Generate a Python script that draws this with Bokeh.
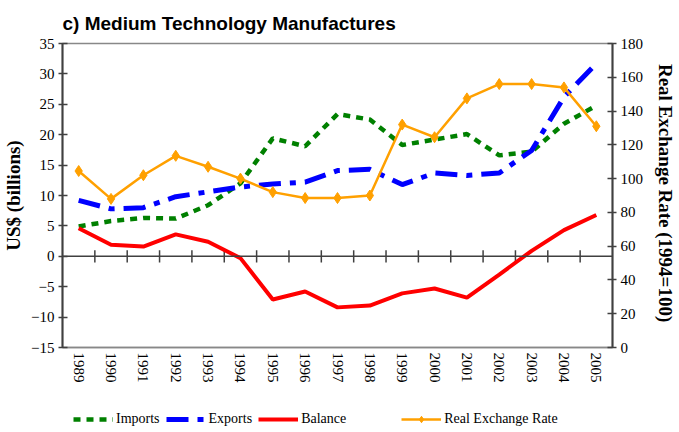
from bokeh.plotting import figure
from bokeh.layouts import column
from bokeh.models import (Range1d, LinearAxis, FixedTicker, SingleIntervalTicker,
                          Legend, LegendItem, ColumnDataSource, Span)
from bokeh.embed import file_html
from bokeh.resources import INLINE

years = [1989, 1990, 1991, 1992, 1993, 1994, 1995, 1996, 1997, 1998,
         1999, 2000, 2001, 2002, 2003, 2004, 2005]
imports = [4.9, 5.8, 6.3, 6.2, 8.4, 12.0, 19.4, 18.1, 23.4, 22.5,
           18.3, 19.2, 20.1, 16.6, 17.2, 21.8, 24.8]
exports = [9.2, 7.8, 8.0, 9.8, 10.6, 11.4, 11.9, 12.2, 14.1, 14.3,
           11.8, 13.7, 13.3, 13.7, 17.4, 26.2, 31.7]
balance = [4.6, 1.9, 1.6, 3.6, 2.4, -0.3, -7.1, -5.8, -8.4, -8.1,
           -6.1, -5.3, -6.8, -3.0, 0.9, 4.3, 6.8]
rer = [104.5, 88.0, 102.0, 113.5, 107.0, 100.0, 92.0, 88.5, 88.5, 90.0,
       132.0, 124.5, 147.5, 156.0, 156.0, 154.0, 131.0]

src = ColumnDataSource(dict(year=years, imports=imports, exports=exports,
                            balance=balance, rer=rer))
# category boundaries (tick marks on the zero line)
bounds = [y + 0.5 for y in years[:-1]]

SERIF = "Liberation Serif"
GREEN, BLUE, RED, ORANGE = "#008000", "#0000FF", "#FF0000", "#FFA000"
STY_IMP = dict(line_color=GREEN, line_width=4.5, line_dash="7 6")
STY_EXP = dict(line_color=BLUE, line_width=5, line_dash="22 9 6 9")
STY_BAL = dict(line_color=RED, line_width=4)
STY_RER = dict(line_color=ORANGE, line_width=2.5)
STY_MRK = dict(marker="diamond", size=11, fill_color=ORANGE, line_color=ORANGE)

p = figure(width=679, height=400, output_backend="svg", toolbar_location=None,
           x_range=Range1d(1988.5, 2005.5), y_range=Range1d(-15, 35),
           min_border_left=61, min_border_right=65, min_border_top=43,
           min_border_bottom=53, background_fill_color="white",
           border_fill_color="white")
p.extra_y_ranges = {"rer": Range1d(0, 180)}
p.grid.visible = False
p.outline_line_color = "#888888"
p.outline_line_width = 1.5

p.title.text = "c) Medium Technology Manufactures"
p.title.text_font = "Liberation Sans"
p.title.text_font_style = "bold"
p.title.text_font_size = "19px"
p.title.text_color = "black"
p.title.offset = 0
p.title.standoff = 20

# bottom (year labels)
xa = p.xaxis[0]
xa.ticker = FixedTicker(ticks=years)
xa.major_label_orientation = "vertical"
xa.major_tick_in = 0
xa.major_tick_out = 0
xa.minor_tick_line_color = None
xa.axis_line_color = "#888888"
xa.axis_line_width = 1.5
xa.major_label_text_font = SERIF
xa.major_label_text_font_size = "15px"
xa.major_label_text_color = "black"
xa.major_label_standoff = 5
xa.major_label_overrides = {y: str(y) for y in years}

# left axis
ya = p.yaxis[0]
ya.ticker = SingleIntervalTicker(interval=5)
ya.axis_label = "US$ (billions)"
ya.axis_label_text_font = SERIF
ya.axis_label_text_font_style = "bold"
ya.axis_label_text_font_size = "19px"
ya.axis_label_text_color = "black"
ya.axis_label_standoff = 4
ya.major_label_standoff = 4
ya.major_label_text_font = SERIF
ya.major_label_text_font_size = "15px"
ya.major_label_text_color = "black"
ya.major_tick_in = 5
ya.major_tick_out = 4
ya.minor_tick_line_color = None
ya.axis_line_width = 2
ya.axis_line_color = "#404040"
ya.major_tick_line_color = "#404040"
ya.major_tick_line_width = 1.5

# right axis
ra = LinearAxis(y_range_name="rer", ticker=SingleIntervalTicker(interval=20),
                axis_label="Real Exchange Rate  (1994=100)")
ra.axis_label_text_font = SERIF
ra.axis_label_text_font_style = "bold"
ra.axis_label_text_font_size = "19px"
ra.axis_label_text_color = "black"
ra.axis_label_standoff = 9
ra.major_label_standoff = 4
ra.major_label_text_font = SERIF
ra.major_label_text_font_size = "15px"
ra.major_label_text_color = "black"
ra.major_tick_in = 5
ra.major_tick_out = 4
ra.minor_tick_line_color = None
ra.axis_line_width = 2
ra.axis_line_color = "#404040"
ra.major_tick_line_color = "#404040"
ra.major_tick_line_width = 1.5
p.add_layout(ra, "right")

# zero line with tick marks between years
p.add_layout(Span(location=0, dimension="width", line_color="#404040",
                  line_width=1.5))
p.segment(x0=bounds, y0=[-1] * len(bounds), x1=bounds, y1=[1] * len(bounds),
          line_color="#404040", line_width=1.5)

p.line("year", "imports", source=src, **STY_IMP)
p.line("year", "exports", source=src, **STY_EXP)
p.line("year", "balance", source=src, **STY_BAL)
p.line("year", "rer", source=src, y_range_name="rer", **STY_RER)
p.scatter("year", "rer", source=src, y_range_name="rer", **STY_MRK)

# legend strip below the chart (its glyphs lie outside its own view)
lf = figure(width=679, height=32, output_backend="svg", toolbar_location=None,
            x_range=Range1d(0, 1), y_range=Range1d(0, 1),
            x_axis_location=None, y_axis_location=None, min_border=0,
            outline_line_color=None, background_fill_color="white",
            border_fill_color="white")
lf.grid.visible = False
l_imp = lf.line("year", "imports", source=src, **STY_IMP)
l_exp = lf.line("year", "exports", source=src, **STY_EXP)
l_bal = lf.line("year", "balance", source=src, **STY_BAL)
l_gap = lf.line("year", "rer", source=src, line_alpha=0)
l_rer = lf.line("year", "rer", source=src, **STY_RER)
l_mrk = lf.scatter("year", "rer", source=src, **STY_MRK)

legend = Legend(items=[LegendItem(label="Imports", renderers=[l_imp]),
                       LegendItem(label="Exports", renderers=[l_exp]),
                       LegendItem(label="Balance", renderers=[l_bal]),
                       LegendItem(label=" ", renderers=[l_gap]),
                       LegendItem(label="Real Exchange Rate",
                                  renderers=[l_rer, l_mrk])],
                location=(11, 5), orientation="horizontal",
                label_text_font=SERIF, label_text_font_size="14px",
                label_text_color="black",
                glyph_width=40, glyph_height=16, label_height=16,
                label_width=0, label_standoff=3, spacing=6, padding=0,
                margin=0, border_line_color=None, background_fill_alpha=0)
lf.add_layout(legend)

layout = column(p, lf, spacing=0)
open("out.html", "w").write(file_html(layout, INLINE))
